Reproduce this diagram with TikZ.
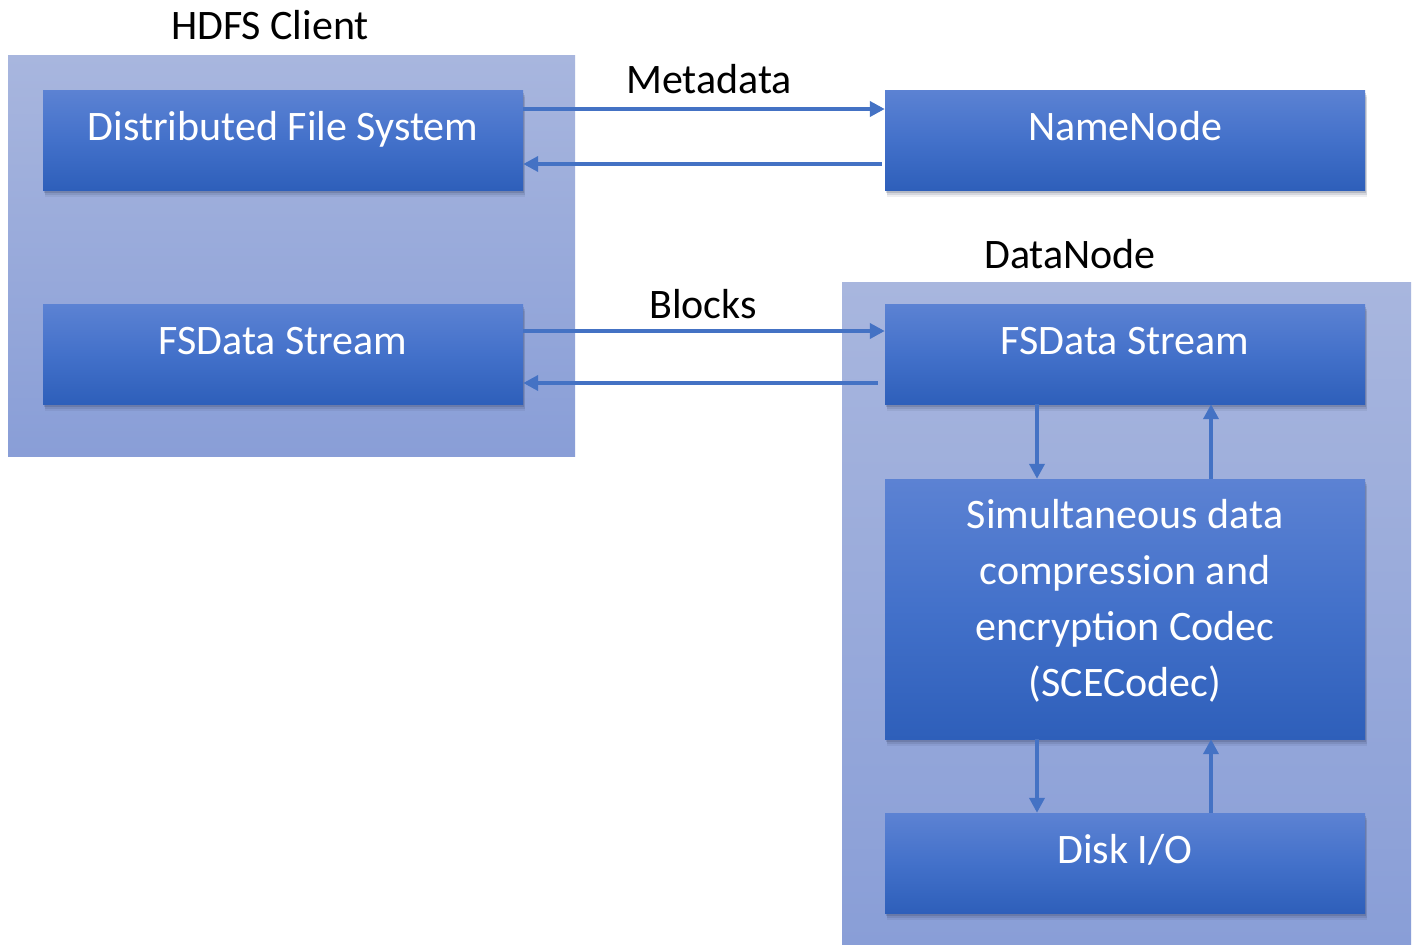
\documentclass[tikz,border=0pt]{standalone}
\usepackage{fontspec}
\setmainfont{Carlito}
\usetikzlibrary{arrows.meta,shadows}
\definecolor{arrowblue}{RGB}{68,114,196}
\definecolor{boxtop}{RGB}{92,130,211}
\definecolor{boxmid}{RGB}{67,113,202}
\definecolor{boxbot}{RGB}{46,95,186}
\definecolor{conttop}{RGB}{168,182,222}
\definecolor{contbot}{RGB}{137,158,215}
\definecolor{shadowc}{RGB}{40,50,80}
\tikzset{
  container/.style={draw=none, top color=conttop, bottom color=contbot},
  bluebox/.style={draw=none, top color=boxtop, bottom color=boxbot, middle color=boxmid,
    minimum width=480pt, minimum height=100pt, text=white, inner sep=0pt,
    font=\fontsize{42}{56}\selectfont,
    drop shadow={shadow xshift=2pt, shadow yshift=-7pt, opacity=0.08, fill=shadowc},
    drop shadow={shadow xshift=1.5pt, shadow yshift=-5pt, opacity=0.12, fill=shadowc},
    drop shadow={shadow xshift=1pt, shadow yshift=-3pt, opacity=0.18, fill=shadowc}},
  onebox/.style={bluebox, text height=24pt, text depth=24pt},
  lbl/.style={font=\fontsize{42}{50}\selectfont, text=black, anchor=base, inner sep=0pt},
  arr/.style={draw=arrowblue, line width=4pt, -{Triangle[length=15pt,width=15pt]}}
}
\begin{document}
\begin{tikzpicture}[x=1pt,y=-1pt]
\useasboundingbox (0,0) rectangle (1414,945);
\fill[white] (0,0) rectangle (1414,945);
% containers
\path[container] (8,55) rectangle (575,456);
\path[container] (842,282) rectangle (1411,945);
% labels
\node[lbl] (hdfs) at (270,39) {HDFS Client};
\node[lbl] (meta) at (709,93) {Metadata};
\node[lbl] (blk) at (703,318) {Blocks};
\node[lbl] (dn) at (1070,268) {DataNode};
% boxes
\node[onebox] (dfs) at (283,140) {Distributed File System};
\node[onebox] (nn) at (1125,140) {NameNode};
\node[onebox] (cfs) at (283,354) {FSData Stream};
\node[onebox] (dfsd) at (1125,354) {FSData Stream};
\node[bluebox, minimum height=260pt, align=center, text depth=22pt] (sce) at (1125,609) {Simultaneous data\\compression and\\encryption Codec\\(SCECodec)};
\node[onebox] (disk) at (1125,863) {Disk I/O};
% connectors
\draw[arr] ([yshift=31pt]dfs.east) -- ([yshift=31pt]nn.west);
\draw[arr] ([yshift=-24pt,xshift=-3pt]nn.west) -- ([yshift=-24pt]dfs.east);
\draw[arr] ([yshift=23pt]cfs.east) -- ([yshift=23pt]dfsd.west);
\draw[arr] ([yshift=-29pt,xshift=-7pt]dfsd.west) -- ([yshift=-29pt]cfs.east);
\draw[arr] ([xshift=-88pt]dfsd.south) -- ([xshift=-88pt]sce.north);
\draw[arr] ([xshift=86pt]sce.north) -- ([xshift=86pt]dfsd.south);
\draw[arr] ([xshift=-88pt]sce.south) -- ([xshift=-88pt]disk.north);
\draw[arr] ([xshift=86pt]disk.north) -- ([xshift=86pt]sce.south);
\end{tikzpicture}
\end{document}
